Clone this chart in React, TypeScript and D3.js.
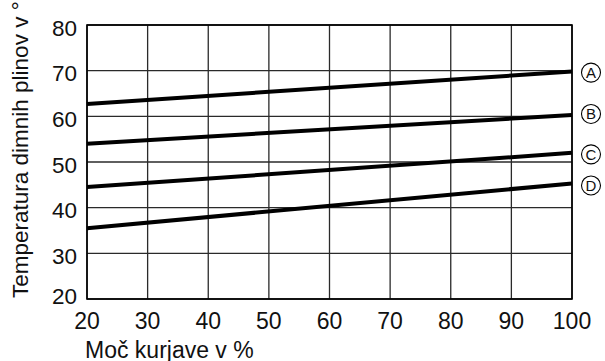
import React, { useEffect, useRef } from 'react';
import * as d3 from 'd3';

// data
const loads = [20, 100];
const seriesNames = ['A', 'B', 'C', 'D'];
const seriesA = [62.7, 69.8];
const seriesB = [54.0, 60.3];
const seriesC = [44.5, 52.0];
const seriesD = [35.5, 45.3];
const xTicks = [20, 30, 40, 50, 60, 70, 80, 90, 100];
const yTicks = [20, 30, 40, 50, 60, 70, 80];
const xTitle = 'Moč kurjave v %';
const yTitle = 'Temperatura dimnih plinov v °C';

export default function App() {
  const ref = useRef<SVGSVGElement>(null);

  useEffect(() => {
    const width = 605;
    const height = 361;
    const margin = { top: 25, left: 87, right: 33, bottom: 62 };
    const innerWidth = width - margin.left - margin.right;
    const innerHeight = height - margin.top - margin.bottom;

    const svg = d3.select(ref.current);
    svg.selectAll('*').remove();
    const g = svg.append('g').attr('transform', `translate(${margin.left}, ${margin.top})`);

    const xScale = d3.scaleLinear().domain([20, 100]).range([0, innerWidth]);
    const yScale = d3.scaleLinear().domain([20, 80]).range([innerHeight, 0]);
    const font = 'Liberation Sans, Arial, sans-serif';

    // grid
    g.selectAll('.vgrid')
      .data(xTicks)
      .join('line')
      .attr('x1', d => xScale(d)).attr('x2', d => xScale(d))
      .attr('y1', 0).attr('y2', innerHeight)
      .attr('stroke', '#2a2a2a').attr('stroke-width', 1.3);

    g.selectAll('.hgrid')
      .data(yTicks)
      .join('line')
      .attr('x1', 0).attr('x2', innerWidth)
      .attr('y1', d => yScale(d)).attr('y2', d => yScale(d))
      .attr('stroke', '#2a2a2a').attr('stroke-width', 1.3);

    g.append('rect')
      .attr('width', innerWidth).attr('height', innerHeight)
      .attr('fill', 'none').attr('stroke', '#000').attr('stroke-width', 1.6);

    // tick labels
    g.selectAll('.xlab')
      .data(xTicks)
      .join('text')
      .attr('x', d => xScale(d)).attr('y', innerHeight + 30)
      .attr('text-anchor', 'middle')
      .attr('font-family', font).attr('font-size', 23)
      .attr('fill', '#111')
      .text(d => d);

    g.selectAll('.ylab')
      .data(yTicks)
      .join('text')
      .attr('x', -10)
      .attr('y', d => (d === 20 ? yScale(d) + 5 : yScale(d) + 10.5))
      .attr('text-anchor', 'end')
      .attr('font-family', font).attr('font-size', 22.5)
      .attr('fill', '#111')
      .text(d => d);

    // axis titles
    svg.append('text')
      .attr('x', 85).attr('y', 357.5)
      .attr('font-family', font).attr('font-size', 23)
      .attr('fill', '#111')
      .text(xTitle);

    svg.append('text')
      .attr('transform', 'translate(28, 298) rotate(-90)')
      .attr('font-family', font).attr('font-size', 22.5)
      .attr('fill', '#111')
      .text(yTitle);

    // lines
    const lineData = [seriesA, seriesB, seriesC, seriesD].map((vals, i) => ({
      name: seriesNames[i],
      values: vals.map((v, j) => ({ x: loads[j], y: v })),
    }));

    const lineGen = d3.line<{ x: number; y: number }>()
      .x(d => xScale(d.x))
      .y(d => yScale(d.y));

    g.selectAll('.line')
      .data(lineData)
      .join('path')
      .attr('d', d => lineGen(d.values))
      .attr('fill', 'none')
      .attr('stroke', '#000')
      .attr('stroke-width', 4);

    // circled labels
    const labelOffsets = [1, -1, 1.5, 2];
    const labels = g.selectAll('.lab')
      .data(lineData)
      .join('g')
      .attr('transform', (d, i) => {
        const last = d.values[d.values.length - 1];
        return `translate(${innerWidth + 19}, ${yScale(last.y) + labelOffsets[i]})`;
      });

    labels.append('circle')
      .attr('r', 9.5)
      .attr('fill', '#fff')
      .attr('stroke', '#000')
      .attr('stroke-width', 1.1);

    labels.append('text')
      .attr('y', 5.3)
      .attr('text-anchor', 'middle')
      .attr('font-family', font).attr('font-size', 15)
      .attr('fill', '#111')
      .text(d => d.name);
  }, []);

  return (
    <svg
      ref={ref}
      width={605}
      height={361}
      style={{ position: 'absolute', left: 0, top: 0, background: '#fff' }}
    />
  );
}
